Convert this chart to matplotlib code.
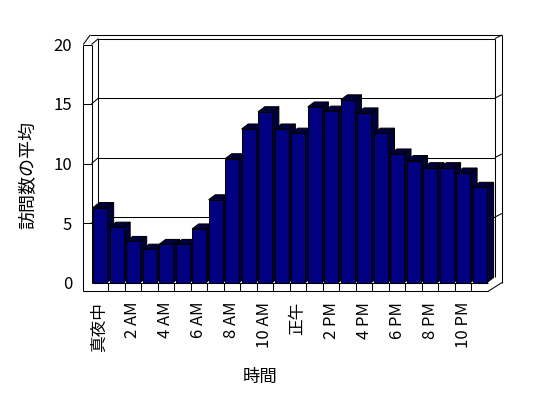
import matplotlib
matplotlib.use("Agg")
import matplotlib.pyplot as plt
from matplotlib.patches import Polygon
import numpy as np

plt.rcParams['font.family'] = ['Noto Sans CJK JP', 'DejaVu Sans']

# ── data ─────────────────────────────────────────────────────────────
visits = [6.3, 4.65, 3.45, 2.8, 3.2, 3.2, 4.5, 6.95, 10.4, 12.9, 14.35, 12.9,
          12.55, 14.75, 14.4, 15.35, 14.25, 12.55, 10.8, 10.25, 9.65, 9.65, 9.2, 8.0]
tick_labels = ["真夜中", "2 AM", "4 AM", "6 AM", "8 AM", "10 AM",
               "正午", "2 PM", "4 PM", "6 PM", "8 PM", "10 PM"]
y_ticks = [0, 5, 10, 15, 20]

# ── 3D look (data units: x = category, y = value) ───────────────────
DX, DY = 0.42, 0.5        # wall depth
BDX, BDY = 0.40, 0.42     # bar depth
T = 0.5                   # left slab thickness
R = 0.43                  # right slab thickness
E = 0.3                   # back wall top thickness
F = 0.75                  # floor strip height
BAR_OFF, BAR_W = 0.09, 0.85
NAVY = "#000080"
DARK = "#00003c"
LW = 0.75

n = len(visits)
ymax = y_ticks[-1]

fig = plt.figure(figsize=(5.48, 3.98), dpi=100)
ax = fig.add_axes([91.5 / 548, 115.5 / 398, 24 * 16.52 / 548, 20 * 11.9 / 398])
ax.set_xlim(0, n)
ax.set_ylim(0, ymax)
for s in ax.spines.values():
    s.set_visible(False)


def line(xs, ys, z=1):
    ax.plot(xs, ys, color="black", lw=LW, clip_on=False, zorder=z,
            solid_capstyle="butt")


# back wall + walls outline
top_in = ymax + DY
top_out = ymax + DY + E
right_in = n + DX
right_out = n + DX + R

# left slab front face
ax.add_patch(Polygon([(-T, -F), (0, -F), (0, ymax), (-T, ymax)], closed=True,
                     facecolor="white", edgecolor="none", clip_on=False, zorder=0))
line([-T, -T], [-F, ymax])
line([0, 0], [0, ymax])
line([-T, 0], [ymax, ymax])
line([-T, -T + DX], [ymax, top_out])
line([0, DX], [ymax, top_in])
line([DX, DX], [DY, top_in])
line([-T + DX, right_out], [top_out, top_out])
line([DX, right_in], [top_in, top_in])
line([right_in, right_out], [top_in, top_out])
line([right_in, right_in], [DY, top_in])
line([right_out, right_out], [0, top_out])

# gridlines on walls
for v in y_ticks[1:-1]:
    line([-T, 0], [v, v])
    line([0, DX], [v, v + DY])
    line([DX, right_in], [v + DY, v + DY])
    line([right_in, right_out], [v + DY, v + DY + E])

# floor strip
line([-T, n], [-F, -F], z=1)
line([0, n], [0, 0], z=1)
line([n, right_out], [-F, 0], z=1)
for i in range(1, n):
    line([i, i], [-F, 0], z=1)

# bars: front faces through ax.bar, depth faces from the same values
x = np.arange(n) + BAR_OFF
for i, v in enumerate(visits):
    z = 2 + i * 0.01
    x0, x1 = x[i], x[i] + BAR_W
    side = [(x1, 0), (x1 + BDX, BDY), (x1 + BDX, v + BDY), (x1, v)]
    top = [(x0, v), (x1, v), (x1 + BDX, v + BDY), (x0 + BDX, v + BDY)]
    for pts in (side, top):
        ax.add_patch(Polygon(pts, closed=True, facecolor=DARK, edgecolor="black",
                             lw=LW, zorder=z, clip_on=False))
    ax.bar(x0, v, width=BAR_W, align="edge", color=NAVY, edgecolor="black",
           lw=LW, zorder=z + 0.005, clip_on=False)

# ticks
ax.set_yticks(y_ticks)
ax.set_yticklabels([str(t) for t in y_ticks], fontsize=12)
ax.set_xticks(np.arange(0, n, 2) + 0.5)
ax.set_xticklabels(tick_labels, rotation=90, fontsize=12)
ax.tick_params(axis="y", length=0, pad=14)
ax.tick_params(axis="x", length=0, pad=14)

fig.text(28 / 548, 1 - 175 / 398, "訪問数の平均", rotation=90, fontsize=13,
         ha="center", va="center")
fig.text(260 / 548, 1 - 377 / 398, "時間", fontsize=12.5, ha="center", va="center")

fig.savefig("out.png", dpi=100)
